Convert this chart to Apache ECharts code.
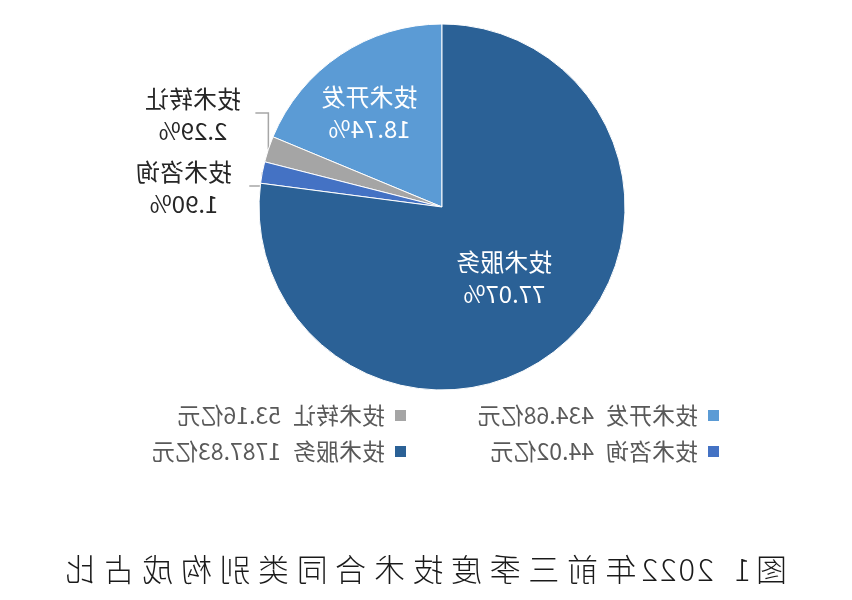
<!DOCTYPE html>
<html><head><meta charset="utf-8">
<script src="https://cdn.jsdelivr.net/npm/echarts@6/dist/echarts.min.js"></script>
<style>html,body{margin:0;padding:0;background:#fff}#c{width:852px;height:600px;transform:scaleX(-1);}</style>
</head><body><div id="c"></div>
<script>
// Data (亿元)
const categories = ['技术开发', '技术转让', '技术咨询', '技术服务'];
const amounts = [434.68, 53.16, 44.02, 1787.83];
const legendColumnA = ['技术开发', '技术咨询'];
const legendColumnB = ['技术转让', '技术服务'];
const titleText = '图1 2022年前三季度技术合同类别构成占比';
const unit = '亿元';

const palette = ['#5b9bd5', '#a5a5a5', '#4472c4', '#2b6196'];
const outsideIdx = [1, 2];

const chart = echarts.init(document.getElementById('c'), null, {renderer: 'canvas'});
const data = categories.map((n, i) => {
  const item = {name: n, value: amounts[i], itemStyle: {color: palette[i]}};
  if (outsideIdx.includes(i)) {
    item.label = {position: 'outside', color: '#262626'};
    item.labelLine = {show: true};
  }
  return item;
});
const legendFmt = name => '{n|' + name + '}{v|' + amounts[categories.indexOf(name)].toFixed(2) + unit + '}';
const legendFont = {fontSize: 23, color: '#595959', fontFamily: 'Noto Sans CJK SC', lineHeight: 23};
const legendCommon = {
  orient: 'vertical', itemWidth: 13, itemHeight: 13, itemGap: 13, icon: 'rect',
  textStyle: Object.assign({padding: [0, 0, 0, 4], rich: {
    n: Object.assign({padding: [0, 12, 0, 0]}, legendFont),
    v: Object.assign({}, legendFont)
  }}, legendFont),
  formatter: legendFmt
};
// label placement for outside labels (centre of label)
const outsideLabelY = {1: 115, 2: 188};
const outsideLabelX = {1: 659, 2: 668};

// title: spread characters like the original typesetting
const titleRich = titleText.split('').map(ch => ch === ' ' ? '{s| }' : (/[0-9]/.test(ch) ? '{d|' + ch + '}' : '{c|' + ch + '}')).join('');
const titleFont = {fontSize: 31, color: '#1a1a1a', fontFamily: 'Noto Sans CJK SC', fontWeight: 300};

chart.setOption({
  backgroundColor: '#fff',
  title: {
    text: titleRich, left: 'center', top: 549,
    textStyle: {
      fontSize: 31, fontWeight: 300, color: '#1a1a1a', fontFamily: 'Noto Sans CJK SC',
      rich: {
        c: Object.assign({padding: [0, 3.8]}, titleFont),
        d: Object.assign({padding: [0, 1]}, titleFont),
        s: Object.assign({padding: [0, 6]}, titleFont)
      }
    }
  },
  legend: [
    Object.assign({left: 126, top: 399, data: legendColumnA}, legendCommon),
    Object.assign({left: 439, top: 399, data: legendColumnB}, legendCommon)
  ],
  series: [{
    type: 'pie',
    center: [410, 207],
    radius: 183,
    startAngle: 90,
    clockwise: true,
    data: data,
    itemStyle: {borderColor: '#fff', borderWidth: 1},
    label: {
      show: true, position: 'inside', color: '#fff', fontSize: 24, lineHeight: 32,
      fontFamily: 'Noto Sans CJK SC',
      formatter: p => p.name + '\n' + p.percent.toFixed(2) + '%'
    },
    labelLine: {show: false, lineStyle: {color: '#a6a6a6', width: 1.5}, length: 10, length2: 10},
    labelLayout: function (params) {
      const i = params.dataIndex;
      if (i === 0) return {dx: 20, dy: -16};
      if (outsideIdx.includes(i) && params.labelLinePoints) {
        const p0 = params.labelLinePoints[0];
        const y = outsideLabelY[i];
        return {
          x: outsideLabelX[i], y: y, align: 'center', verticalAlign: 'middle',
          labelLinePoints: [[p0[0], p0[1]], [p0[0], y - 2], [p0[0] + 13, y - 2]]
        };
      }
      return {};
    }
  }]
});
</script></body></html>
